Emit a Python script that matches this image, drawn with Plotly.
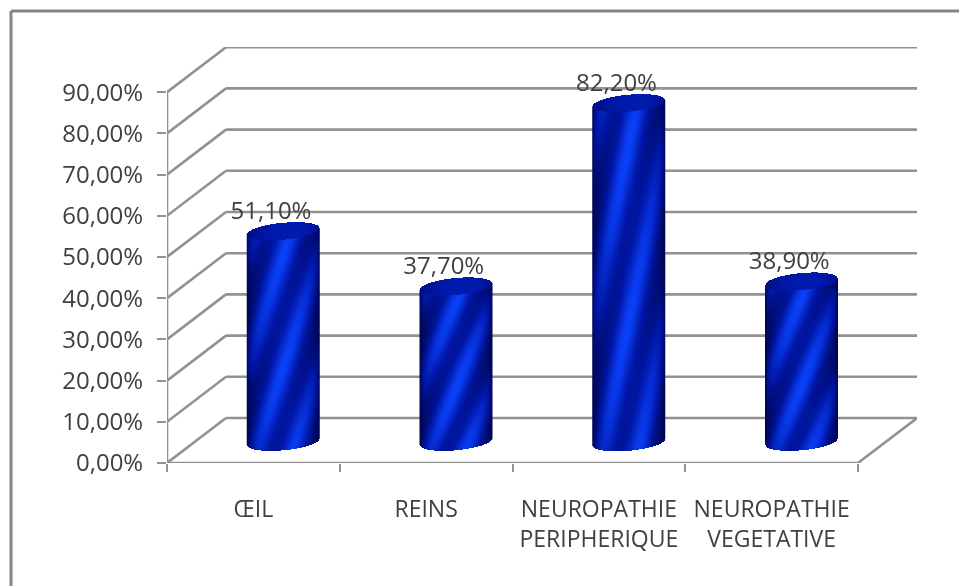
import numpy as np
import plotly.graph_objects as go

# ---- data ----
categories = ["ŒIL", "REINS", "NEUROPATHIE<br>PERIPHERIQUE", "NEUROPATHIE<br>VEGETATIVE"]
values = [51.1, 37.7, 82.2, 38.9]
y_ticks = [0, 10, 20, 30, 40, 50, 60, 70, 80, 90]
y_tick_labels = [f"{t},00%" for t in y_ticks]
bar_labels = [f"{v:.2f}".replace(".", ",") + "%" for v in values]

# ---- page geometry ----
W, H = 959, 586
L, R, T, B = 167, 917, 47, 463          # plot frame in page pixels
PX_X = (858 - 167) / 4                  # pixels per category
PX_Y = 4.12                             # pixels per percentage point
DX = 59 / PX_X                          # depth offset of the back wall
DY = 45 / PX_Y
XMAX = (R - L) / PX_X
YMAX = (B - T) / PX_Y

AXIS = "#929292"
TEXT = "#404040"
BLUE_SCALE = [[0, "#00003c"], [0.45, "#0016a4"], [1, "#0a40f8"]]

# cylinder geometry, in data units
BASE = 5.2
CENTER_OFF = 0.6715
HALF_W = 36 / PX_X
CURVE = 8.5 / PX_Y
TILT = 3.2 / PX_Y


def cylinder(i, v):
    cx = i + CENTER_OFF
    xs = cx + np.linspace(-HALF_W, HALF_W, 145)
    ys = np.arange(BASE - CURVE - TILT, BASE + v + CURVE + TILT, 0.5 / PX_Y)
    X, Y = np.meshgrid(xs, ys)
    w = np.clip((X - cx) / HALF_W, -1, 1)
    u = (w + 1) / 2
    arc = CURVE * np.sqrt(1 - w ** 2)
    low = BASE + TILT * w - arc
    front = BASE + v + TILT * w - arc
    top = BASE + v + TILT * w + arc
    n = (Y - (BASE - CURVE)) / (v + 2 * CURVE)
    edge = np.sin(np.pi * np.clip(u, 0.005, 0.995)) ** 0.45
    wave = 0.5 + 0.5 * np.cos(2 * np.pi * (u - 1.05 * n - 0.12) / 0.52)
    body = edge * (0.42 + 0.58 * wave ** 1.4)
    cap = 0.24 + 0.34 * edge * (0.6 + 0.4 * u)
    z = np.where(Y < front, body, cap)
    z = np.where((Y < low) | (Y > top), np.nan, z)
    return xs, ys, z


fig = go.Figure()

for i, v in enumerate(values):
    xs, ys, z = cylinder(i, v)
    fig.add_trace(go.Heatmap(x=xs, y=ys, z=z, coloraxis="coloraxis",
                             hoverinfo="skip", zsmooth=False))

# data labels
fig.add_trace(go.Scatter(
    x=[i + CENTER_OFF - 12 / PX_X for i in range(len(values))],
    y=[BASE + v + 18 / PX_Y for v in values],
    mode="text", text=bar_labels, textposition="middle center",
    textfont=dict(family="Open Sans", size=24, color=TEXT),
    cliponaxis=False, showlegend=False, hoverinfo="skip"))

# back wall, side wall, floor and front axes, placed under the cylinders
shapes = []


def seg(x0, y0, x1, y1, width=2.6):
    shapes.append(dict(type="line", xref="x", yref="y", x0=x0, y0=y0, x1=x1, y1=y1,
                       layer="below", line=dict(color=AXIS, width=width)))


for t in y_ticks:
    seg(0, t, DX, t + DY)
    seg(DX, t + DY, XMAX, t + DY)
seg(0, 0, 0, y_ticks[-1])
seg(0, 0, len(categories), 0)
seg(len(categories), 0, XMAX, DY)

# chart-area frame: top and left edges only reach the picture
fx = lambda p: (p - L) / (R - L)
fy = lambda p: (B - p) / (B - T)
for a, b, c, d in [(11, 11, W + 5, 11), (11, 11, 11, H + 5)]:
    shapes.append(dict(type="line", xref="paper", yref="paper",
                       x0=fx(a), y0=fy(b), x1=fx(c), y1=fy(d),
                       line=dict(color="#858585", width=3)))

fig.update_layout(
    width=W, height=H, autosize=False,
    margin=dict(l=L, r=W - R, t=T, b=H - B, pad=0),
    paper_bgcolor="white", plot_bgcolor="white",
    showlegend=False, shapes=shapes,
    coloraxis=dict(colorscale=BLUE_SCALE, cmin=0, cmax=1, showscale=False),
    xaxis=dict(range=[0, XMAX], showgrid=False, zeroline=False, showline=False,
               tickmode="array", tickvals=[i + 0.5 for i in range(len(categories))],
               ticktext=categories, ticks="", ticklabelstandoff=30,
               tickfont=dict(family="Open Sans", size=23, color=TEXT),
               minor=dict(tickmode="array", tickvals=list(range(len(categories) + 1)),
                          ticks="outside", ticklen=8, tickwidth=2, tickcolor=AXIS)),
    yaxis=dict(range=[0, YMAX], showgrid=False, zeroline=False, showline=False,
               tickmode="array", tickvals=y_ticks, ticktext=y_tick_labels,
               ticks="outside", ticklen=9, tickwidth=2, tickcolor=AXIS,
               ticklabelstandoff=9,
               tickfont=dict(family="Open Sans", size=24, color=TEXT)),
)

# the page's default body margin would push the whole figure 8px right and down;
# the slight blur reproduces the soft look of the reference scan
fig.write_html("out.html", config=dict(displayModeBar=False),
               post_script="document.body.style.margin='0';document.body.style.overflow='hidden';"
                           "document.body.style.filter='blur(0.5px)';")
